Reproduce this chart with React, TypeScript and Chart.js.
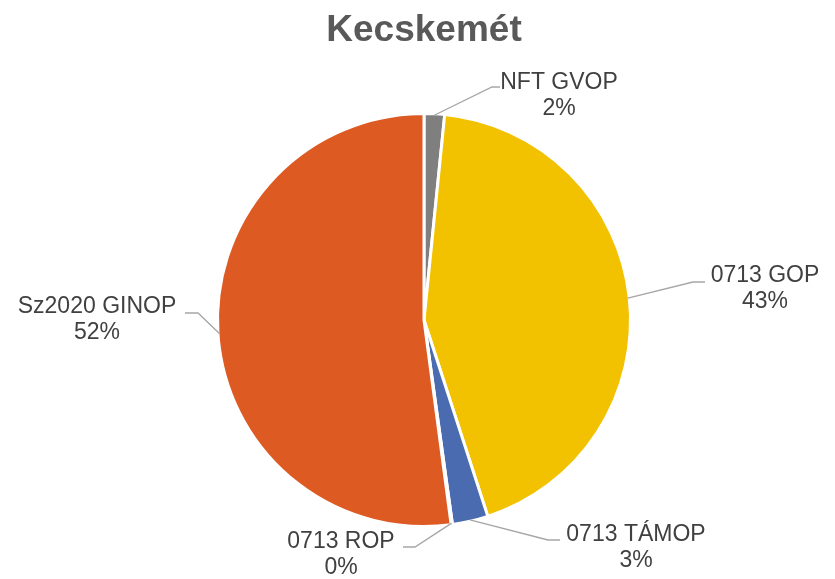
import React, { useEffect, useRef } from "react";
import { Chart, registerables } from "chart.js";

Chart.register(...registerables);

const TITLE = "Kecskemét";
const CATEGORIES = ["NFT GVOP", "0713 GOP", "0713 TÁMOP", "0713 ROP", "Sz2020 GINOP"];
const VALUES = [1.6, 43.4, 2.8, 0.1, 52.1];
const COLORS = ["#7F7F7F", "#F2C100", "#4A6BB0", "#A5A5A5", "#DD5A23"];

// label layout: elbow point, end of horizontal leader, text centre x, first baseline (page px)
const LABEL_LAYOUT = [
  { ex: 492, ey: 87, hx: 500, tx: 559, ty: 89 },
  { ex: 693, ey: 282, hx: 705, tx: 765, ty: 282 },
  { ex: 548, ey: 540, hx: 560, tx: 636, ty: 541 },
  { ex: 415, ey: 547, hx: 403, tx: 341, ty: 548 },
  { ex: 198, ey: 313, hx: 185, tx: 97, ty: 313 },
];

const W = 835;
const H = 579;

const labelPlugin = {
  id: "excelLabels",
  afterDraw(chart: any) {
    const ctx = chart.ctx as CanvasRenderingContext2D;
    const meta = chart.getDatasetMeta(0);
    const data = chart.data.datasets[0].data as number[];
    const total = data.reduce((a, b) => a + b, 0);
    ctx.save();
    // title
    ctx.fillStyle = "#595959";
    ctx.font = "bold 37px 'Liberation Sans', Arial, sans-serif";
    ctx.textAlign = "center";
    ctx.textBaseline = "alphabetic";
    ctx.fillText(TITLE, 424, 41);

    meta.data.forEach((arc: any, i: number) => {
      const p = arc.getProps(["x", "y", "startAngle", "endAngle", "outerRadius"], true);
      const mid = (p.startAngle + p.endAngle) / 2;
      const r = p.outerRadius - 1.5;
      const ax = p.x + Math.cos(mid) * r;
      const ay = p.y + Math.sin(mid) * r;
      const L = LABEL_LAYOUT[i];
      ctx.strokeStyle = "#A6A6A6";
      ctx.lineWidth = 1.3;
      ctx.beginPath();
      ctx.moveTo(ax, ay);
      ctx.lineTo(L.ex, L.ey);
      ctx.lineTo(L.hx, L.ey);
      ctx.stroke();

      ctx.fillStyle = "#404040";
      ctx.font = "23px 'Liberation Sans', Arial, sans-serif";
      ctx.textAlign = "center";
      ctx.textBaseline = "alphabetic";
      const pct = Math.round((data[i] / total) * 100) + "%";
      ctx.fillText(String(chart.data.labels[i]), L.tx, L.ty);
      ctx.fillText(pct, L.tx, L.ty + 26);
    });
    ctx.restore();
  },
};

export default function App() {
  const ref = useRef<HTMLCanvasElement | null>(null);
  useEffect(() => {
    if (!ref.current) return;
    const chart = new Chart(ref.current, {
      type: "pie",
      data: {
        labels: CATEGORIES,
        datasets: [
          {
            data: VALUES,
            backgroundColor: COLORS,
            borderColor: "#FFFFFF",
            borderWidth: 3,
          },
        ],
      },
      options: {
        responsive: false,
        animation: false,
        devicePixelRatio: 1,
        layout: { padding: { left: 216, top: 112, right: 203, bottom: 51 } },
        plugins: {
          legend: { display: false },
          tooltip: { enabled: false },
          title: { display: false },
        },
      },
      plugins: [labelPlugin],
    });
    return () => chart.destroy();
  }, []);
  return (
    <div style={{ position: "absolute", left: 0, top: 0, width: W, height: H, background: "#fff" }}>
      <canvas ref={ref} width={W} height={H} style={{ display: "block", width: W, height: H }} />
    </div>
  );
}
